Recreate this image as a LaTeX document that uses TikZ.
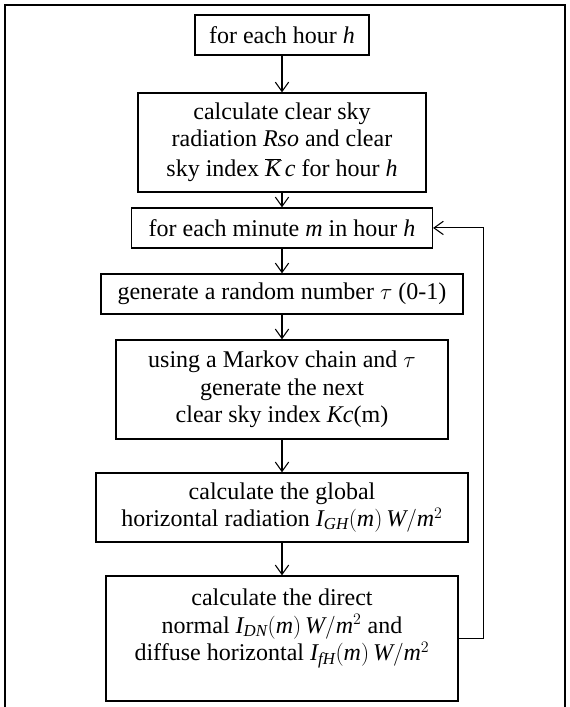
\documentclass[tikz,border=0pt]{standalone}
\usepackage{fontspec}
\setmainfont{Liberation Serif}
\usepackage{tikz}
\usetikzlibrary{shapes,arrows,arrows.meta,calc}
\tikzstyle{line} = [draw, line width=0.8pt, -{Straight Barb[length=7pt,width=10pt]}]
\tikzstyle{block} = [draw, line width=0.9pt, rectangle, align=center, inner sep=2pt]
\tikzstyle{frame} = [draw, line width=1.5pt]

\begin{document}
\begin{tikzpicture}[font=\fontsize{18}{20.5}\selectfont]
        \useasboundingbox (0,0) rectangle (426.75pt,-530.25pt);
        \draw[frame] (4.1pt,-531pt) -- (4.1pt,-3.75pt) -- (423.5pt,-3.75pt) -- (423.5pt,-531pt);
        \node[block, minimum width=130.5pt, minimum height=30pt] (hour) at (211.5pt,-26.25pt) {for each hour $\mathit{h}$};
        \node[block, below of=hour, node distance=80.6pt, minimum width=216pt, minimum height=74.25pt] (clearsky) {calculate clear sky\\ radiation $\mathit{Rso}$ and clear\\[2pt] sky index $\overline{\mathit{K}}\,\mathit{c}$ for hour $\mathit{h}$};
        \node[block, below of=clearsky, node distance=64.1pt, minimum width=225.75pt, minimum height=30pt] (minute) {for each minute $\mathit{m}$ in hour $\mathit{h}$};
        \node[block, below of=minute, node distance=49.5pt, minimum width=271.5pt, minimum height=30pt] (random) {generate a random number $\tau$ (0-1)};
        \node[block, below of=random, node distance=71.6pt, minimum width=249pt, minimum height=74.25pt] (markov) {using a Markov chain and $\tau$\\ generate the next\\ clear sky index $\mathit{Kc}$(m)};
        \node[block, below of=markov, node distance=88.5pt, minimum width=279pt, minimum height=51.75pt] (global) {calculate the global\\ horizontal radiation $\mathit{I}_{\mathit{GH}}(\mathit{m})\,\mathit{W}/\mathit{m}^2$};
        \node[block, below of=global, node distance=98.25pt, minimum width=264pt, minimum height=93.75pt] (direct) {calculate the direct\\ normal $\mathit{I}_{\mathit{DN}}(\mathit{m})\,\mathit{W}/\mathit{m}^2$ and\\ diffuse horizontal $\mathit{I}_{\mathit{fH}}(\mathit{m})\,\mathit{W}/\mathit{m}^2$\\ ~};
        \path[line] (hour) -- (clearsky);
        \path[line] (clearsky) -- (minute);
        \path[line] (minute) -- (random);
        \path[line] (random) -- (markov);
        \path[line] (markov) -- (global);
        \path[line] (global) -- (direct);
        \path[line] (direct.east) -- ++(18.75pt,0) |- (minute.east);
    \end{tikzpicture}
\end{document}
